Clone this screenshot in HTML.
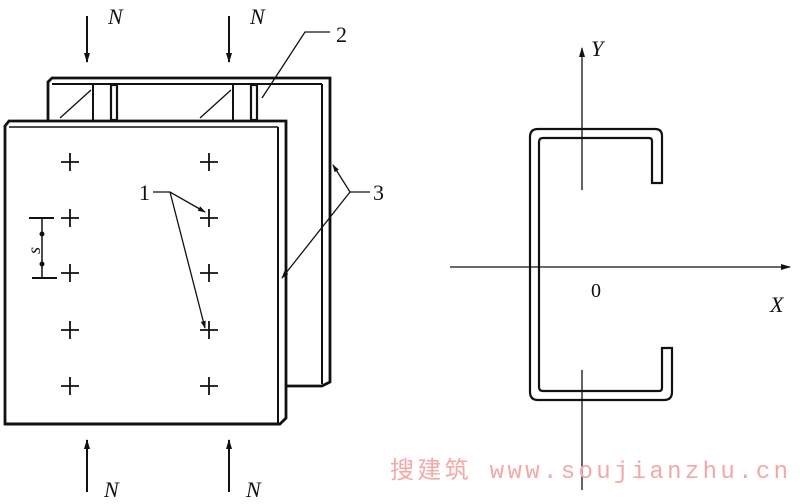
<!DOCTYPE html>
<html><head><meta charset="utf-8"><style>
html,body{margin:0;padding:0;background:#fff;}
svg{display:block;}
text{font-family:"Liberation Serif",serif;}
</style></head><body>
<svg width="800" height="504" viewBox="0 0 800 504" xmlns="http://www.w3.org/2000/svg">
<defs>
<marker id="ah" markerWidth="8" markerHeight="8" refX="7" refY="4" orient="auto" markerUnits="userSpaceOnUse">
<path d="M0,1.5 L8,4 L0,6.5 Z" fill="#111"/></marker>
<marker id="ab" markerWidth="10" markerHeight="10" refX="9" refY="5" orient="auto" markerUnits="userSpaceOnUse">
<path d="M0,2 L10,5 L0,8 Z" fill="#111"/></marker>
</defs>
<g stroke="#111" fill="none">
<path d="M48,120 L48,82 L52,78 L330,78 L330,382 L322,386 L286,386" stroke-width="2.8" fill="#fff"/>
<line x1="52" y1="84" x2="322" y2="84" stroke-width="2"/>
<line x1="322" y1="84" x2="322" y2="384" stroke-width="2"/>
<line x1="93" y1="84" x2="93" y2="120" stroke-width="2"/>
<line x1="60" y1="118" x2="91" y2="90" stroke-width="1.3"/>
<rect x="111" y="85" width="6" height="35" stroke-width="2.2"/>
<line x1="233" y1="84" x2="233" y2="120" stroke-width="2"/>
<line x1="200" y1="118" x2="231" y2="90" stroke-width="1.3"/>
<rect x="251" y="85" width="6" height="35" stroke-width="2.2"/>
<path d="M5,424 L5,126 L9,121 L286,121 L286,418 L280,424 Z" stroke-width="2.8" fill="#fff"/>
<line x1="9" y1="127" x2="278" y2="127" stroke-width="1.5"/>
<line x1="278" y1="127" x2="278" y2="424" stroke-width="2"/>
<line x1="5" y1="424" x2="280" y2="424" stroke-width="3"/>
<g stroke-width="1.8">
<path d="M61,162h18M70,153v18 M200,162h18M209,153v18
M61,218h18M70,209v18 M200,218h18M209,209v18
M61,273h18M70,264v18 M200,273h18M209,264v18
M61,330h18M70,321v18 M200,330h18M209,321v18
M61,386h18M70,377v18 M200,386h18M209,377v18"/>
</g>
<line x1="29" y1="218" x2="54" y2="218" stroke-width="2"/>
<line x1="32" y1="278" x2="57" y2="278" stroke-width="2"/>
<line x1="42" y1="218" x2="42" y2="278" stroke-width="1.5"/>
<circle cx="42" cy="234" r="2" fill="#111"/><circle cx="42" cy="264" r="2" fill="#111"/>
<path d="M153,192 L170,192 L205,212" stroke-width="1.3" marker-end="url(#ah)"/>
<path d="M170,192 L205,328" stroke-width="1.3" marker-end="url(#ah)"/>
<path d="M370,192 L350,192 L333,165" stroke-width="1.3" marker-end="url(#ah)"/>
<path d="M350,192 L282,278" stroke-width="1.3" marker-end="url(#ah)"/>
<path d="M330,32 L305,32 L262,98" stroke-width="1.3"/>
<line x1="87" y1="16" x2="87" y2="62" stroke-width="2" marker-end="url(#ab)"/>
<line x1="229" y1="16" x2="229" y2="62" stroke-width="2" marker-end="url(#ab)"/>
<line x1="87" y1="492" x2="87" y2="440" stroke-width="2" marker-end="url(#ab)"/>
<line x1="229" y1="492" x2="229" y2="440" stroke-width="2" marker-end="url(#ab)"/>
<path d="M662,183 L662,136 Q662,129 655,129 L538,129 Q530,129 530,137 L530,392 Q530,400 538,400 L664,400 Q672,400 672,392 L672,348 L662,348 L662,388 Q662,391 659,391 L543,391 Q539,391 539,387 L539,142 Q539,138 543,138 L649,138 Q652,138 652,141 L652,183 Z" stroke-width="2.2"/>
<line x1="582" y1="190" x2="582" y2="48" stroke-width="1.3" marker-end="url(#ab)"/>
<line x1="582" y1="370" x2="582" y2="490" stroke-width="1.3"/>
<line x1="450" y1="267" x2="790" y2="267" stroke-width="1.3" marker-end="url(#ab)"/>
</g>
<g fill="#111" font-style="italic" font-size="22">
<text x="108" y="24">N</text><text x="250" y="24">N</text>
<text x="104" y="497">N</text><text x="246" y="497">N</text>
<text x="591" y="56">Y</text>
<text x="770" y="312">X</text>
<text x="28" y="254" font-size="18" transform="rotate(-90 34 248)">s</text>
</g>
<g fill="#111" font-size="22">
<text x="336" y="42">2</text>
<text x="139" y="200">1</text>
<text x="373" y="200">3</text>
<text x="591" y="297" font-size="20">0</text>
</g>
<text x="390" y="478" font-size="24" textLength="398" lengthAdjust="spacing" fill="#f4a8a8" style="font-family:'Liberation Mono','Noto Sans CJK SC',monospace">搜建筑 www.soujianzhu.cn</text>
</svg>
</body></html>
